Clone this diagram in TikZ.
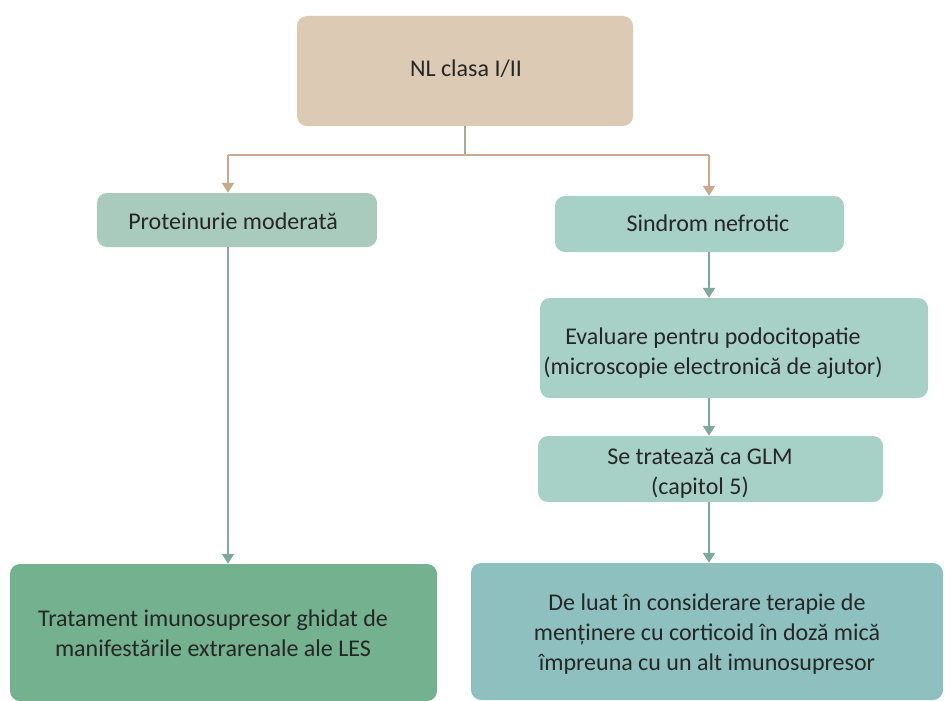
\documentclass[tikz,border=0pt]{standalone}
\usepackage{fontspec}
\setmainfont{Carlito}
\usetikzlibrary{arrows.meta}

\definecolor{tanfill}{HTML}{DDCAB4}
\definecolor{tanline}{HTML}{C9AA8C}
\definecolor{stemline}{HTML}{B0A698}
\definecolor{sagefill}{HTML}{A8CBBE}
\definecolor{tealfill}{HTML}{A7D0C7}
\definecolor{greenfill}{HTML}{74B18F}
\definecolor{bluefill}{HTML}{8EC0C0}
\definecolor{flowline}{HTML}{7FA99C}
\definecolor{inktext}{HTML}{262626}

\begin{document}
\begin{tikzpicture}[x=1pt,y=-1pt,
  box/.style={rounded corners=10pt, draw=none, inner sep=0pt},
  label/.style={text=inktext, align=center, inner sep=0pt,
    font=\fontsize{24}{30}\selectfont},
  tanlink/.style={draw=tanline, line width=2.2pt},
  tanarrow/.style={draw=tanline, line width=2.2pt,
    -{Triangle[width=12pt,length=10pt]}},
  flowarrow/.style={draw=flowline, line width=2.2pt,
    -{Triangle[width=12pt,length=10pt]}}]

  \useasboundingbox (0,0) rectangle (945,701);

  % boxes
  \node[box, fill=tanfill, minimum width=336pt, minimum height=110pt] (top) at (465,71) {};
  \node[box, fill=sagefill, minimum width=280pt, minimum height=54pt] (prot) at (237,220) {};
  \node[box, fill=tealfill, minimum width=289pt, minimum height=56pt] (sind) at (699.5,224) {};
  \node[box, fill=tealfill, minimum width=388pt, minimum height=100pt] (eval) at (734,348) {};
  \node[box, fill=tealfill, minimum width=345pt, minimum height=66pt] (trat) at (710.5,469) {};
  \node[box, fill=greenfill, minimum width=427pt, minimum height=137pt] (bl) at (223.5,632.5) {};
  \node[box, fill=bluefill, minimum width=472pt, minimum height=137pt] (br) at (707,631.5) {};

  % texts
  \node[label] (ttop) at (466,69) {NL clasa I/II};
  \node[label] (tprot) at (233,221) {Proteinurie moderată};
  \node[label] (tsind) at (708,223) {Sindrom nefrotic};
  \node[label] (teval) at (713,353) {Evaluare pentru podocitopatie\\(microscopie electronică de ajutor)};
  \node[label] (ttrat) at (700,473) {Se tratează ca GLM\\(capitol 5)};
  \node[label] (tbl) at (213,633) {Tratament imunosupresor ghidat de\\manifestările extrarenale ale LES};
  \node[label] (tbr) at (707,634) {De luat în considerare terapie de\\menținere cu corticoid în doză mică\\împreuna cu un alt imunosupresor};

  % junctions and columns
  \coordinate (lj) at (228,155);
  \coordinate (rj) at (709,155);
  \coordinate (rx) at (709,0);

  % split below the first box
  \draw[draw=stemline, line width=2.2pt] (top.south) -- (top.south |- lj);
  \draw[tanlink] (lj) -- (rj);
  \draw[tanarrow] (lj) -- (lj |- prot.north);
  \draw[tanarrow] (rj) -- (rj |- sind.north);

  % left branch
  \draw[flowarrow] (lj |- prot.south) -- (lj |- bl.north);

  % right branch
  \draw[flowarrow] (rx |- sind.south) -- (rx |- eval.north);
  \draw[flowarrow] (rx |- eval.south) -- (rx |- trat.north);
  \draw[flowarrow] (rx |- trat.south) -- (rx |- br.north);
\end{tikzpicture}
\end{document}
